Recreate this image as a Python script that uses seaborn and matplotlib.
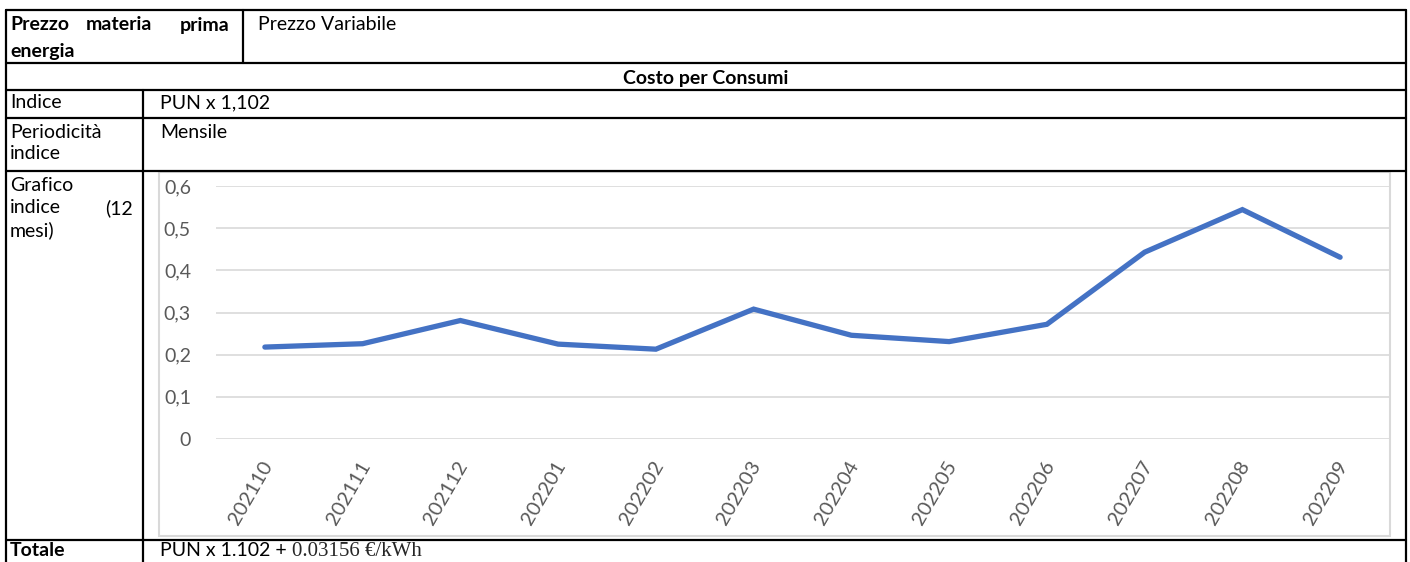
import pandas as pd
import matplotlib
matplotlib.use('Agg')
import matplotlib.pyplot as plt
import matplotlib.transforms as mtransforms
from matplotlib.lines import Line2D
from matplotlib.patches import Rectangle
from matplotlib.ticker import FuncFormatter
import seaborn as sns

# dati del grafico (PUN x 1,102, ultimi 12 mesi)
periodi = ['202110', '202111', '202112', '202201', '202202', '202203',
           '202204', '202205', '202206', '202207', '202208', '202209']
valori = [0.218, 0.226, 0.281, 0.225, 0.213, 0.308,
          0.246, 0.231, 0.272, 0.443, 0.544, 0.431]
y_ticks = [0, 0.1, 0.2, 0.3, 0.4, 0.5, 0.6]

W, H = 1410, 562
FS = 14

sns.set_style('white')
plt.rcParams['font.family'] = ['Lato', 'DejaVu Sans']

fig = plt.figure(figsize=(W / 100, H / 100), dpi=100)


def fx(x):
    return x / W


def fy(y):
    return 1 - y / H


def hline(y, x0, x1, color='black', lw=1.6):
    fig.add_artist(Line2D([fx(x0), fx(x1)], [fy(y), fy(y)], color=color, lw=lw,
                          transform=fig.transFigure))


def vline(x, y0, y1, color='black', lw=1.6):
    fig.add_artist(Line2D([fx(x), fx(x)], [fy(y0), fy(y1)], color=color, lw=lw,
                          transform=fig.transFigure))


def txt(x, y, s, bold=False, ha='left', size=FS, **kw):
    return fig.text(fx(x), fy(y), s, ha=ha, va='center', fontsize=size,
                    fontweight='bold' if bold else 'normal', color='black', **kw)


# bordi tabella
for y in [9.5, 63, 90, 118, 171, 540]:
    hline(y, 6, 1406)
vline(6, 9.5, 562)
vline(1406, 9.5, 562)
vline(243, 9.5, 63)
vline(143, 90, 562)

# testi tabella
txt(10, 25, 'Prezzo', bold=True)
txt(86, 25, 'materia', bold=True)
txt(229, 25, 'prima', bold=True, ha='right')
txt(10, 52, 'energia', bold=True)
txt(258, 25, 'Prezzo Variabile')
txt(706, 79, 'Costo per Consumi', bold=True, ha='center')
txt(10, 103, 'Indice')
txt(160, 103, 'PUN x 1,102')
txt(10, 132, 'Periodicità')
txt(10, 153, 'indice')
txt(160, 132, 'Mensile')
txt(10, 186, 'Grafico')
txt(10, 208, 'indice')
txt(133, 208, '(12', ha='right')
txt(10, 230, 'mesi)')
txt(10, 551, 'Totale', bold=True)
t1 = txt(160, 551, 'PUN x 1.102 + ')

# la seconda parte della formula è in un carattere con grazie
fig.canvas.draw()
bb = t1.get_window_extent(fig.canvas.get_renderer())
fig.text(bb.x1 / W, fy(551), '0.03156 €/kWh', ha='left', va='center', fontsize=15,
         family=['Liberation Serif', 'DejaVu Serif'])

# cornice del grafico
fig.add_artist(Rectangle((fx(159), fy(536)), fx(1390) - fx(159), fy(172) - fy(536),
                         transform=fig.transFigure, fill=False,
                         edgecolor='#D9D9D9', lw=1.5))

# area del grafico
ax = fig.add_axes([fx(216), fy(439), fx(1389) - fx(216), fy(186) - fy(439)])
df = pd.DataFrame({'periodo': periodi, 'valore': valori})
sns.lineplot(data=df, x='periodo', y='valore', ax=ax, color='#4472C4',
             linewidth=3.8, solid_capstyle='round', solid_joinstyle='miter')

ax.set_xlim(-0.5, len(periodi) - 0.5)
ax.set_ylim(0, 0.6)
ax.set_yticks(y_ticks)
ax.yaxis.set_major_formatter(FuncFormatter(
    lambda v, p: '0' if v == 0 else f'{v:.1f}'.replace('.', ',')))
ax.grid(axis='y', color='#D9D9D9', lw=1.2)
ax.grid(axis='x', visible=False)
for s in ax.spines.values():
    s.set_visible(False)
ax.set_xlabel('')
ax.set_ylabel('')
ax.tick_params(axis='y', length=0, pad=18, labelsize=14, labelcolor='#595959')
ax.tick_params(axis='x', length=0, pad=14, labelsize=14.5, labelcolor='#595959')
ax.set_xticks(range(len(periodi)))
ax.set_xticklabels(periodi, rotation=60, ha='right', rotation_mode='anchor')
shift = mtransforms.ScaledTranslation(-4 / 100, 0, fig.dpi_scale_trans)
for lab in ax.get_xticklabels():
    lab.set_transform(lab.get_transform() + shift)
ax.set_facecolor('none')

plt.savefig('out.png', dpi=100)
